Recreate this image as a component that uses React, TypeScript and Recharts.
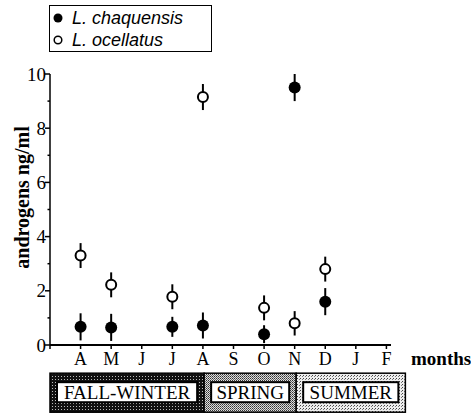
import { ComposedChart, Scatter, ErrorBar, XAxis, YAxis, Legend, ReferenceArea } from 'recharts'

const serif = 'Liberation Serif, Times New Roman, serif'
const sans = 'Liberation Sans, Arial, Helvetica, sans-serif'

// month letters, index = x position (0 = origin, no label)
const months = ['', 'A', 'M', 'J', 'J', 'A', 'S', 'O', 'N', 'D', 'J', 'F']
const monthTicks = months.map((_, i) => i)
const yTicks = [0, 1, 2, 3, 4, 5, 6, 7, 8, 9, 10]

const sampleMonth = [1, 2, 4, 5, 7, 8, 9]
const chaquensisMean = [0.67, 0.65, 0.67, 0.72, 0.4, 9.5, 1.6]
const chaquensisSe = [0.5, 0.5, 0.37, 0.48, 0.33, 0.5, 0.5]
const ocellatusMean = [3.3, 2.22, 1.78, 9.15, 1.37, 0.8, 2.8]
const ocellatusSe = [0.46, 0.46, 0.46, 0.48, 0.46, 0.45, 0.46]

const seriesNames = ['L. chaquensis', 'L. ocellatus']

const seasons = ['FALL-WINTER', 'SPRING', 'SUMMER']
const seasonStart = [0, 5.04, 8.05]
const seasonEnd = [5.04, 8.05, 11.62]
const seasonFill = ['url(#stippleDark)', 'url(#stippleMid)', 'url(#stippleLight)']

const chaquensisData = sampleMonth.map((x, i) => ({ x, y: chaquensisMean[i], err: chaquensisSe[i] }))
const ocellatusData = sampleMonth.map((x, i) => ({ x, y: ocellatusMean[i], err: ocellatusSe[i] }))

const filledDot = (p: any) => <circle cx={p.cx} cy={p.cy} r={6} fill="#000" />
const openDot = (p: any) => <circle cx={p.cx} cy={p.cy} r={5} fill="#fff" stroke="#000" strokeWidth={2} />

const YTick = (props: any) => {
  const { x, y, payload } = props
  const major = payload.value % 2 === 0
  return (
    <g>
      <line x1={x - (major ? 5 : 2.5)} x2={x} y1={y} y2={y} stroke="#000" strokeWidth={1.5} />
      {major && (
        <text
          x={x - 4}
          y={y}
          dy="0.35em"
          textAnchor="end"
          style={{ fontFamily: serif, fontSize: 19 }}
          fill="#000"
        >
          {payload.value}
        </text>
      )}
    </g>
  )
}

const XTick = (props: any) => {
  const { x, y, payload } = props
  return (
    <text x={x} y={y} dy="0.71em" textAnchor="middle" style={{ fontFamily: serif, fontSize: 18 }} fill="#000">
      {months[payload.value]}
    </text>
  )
}

const LegendBox = () => (
  <div
    style={{
      width: 163,
      height: 47,
      boxSizing: 'border-box',
      border: '1.5px solid #000',
      background: '#fff',
      fontFamily: sans,
      fontStyle: 'italic',
      fontSize: 18,
      color: '#000',
      padding: '1px 0 0 1px',
      lineHeight: '22px',
    }}
  >
    {seriesNames.map((name, i) => (
      <div key={name} style={{ display: 'flex', alignItems: 'center', height: 22 }}>
        <svg width={14} height={14}>
          {i === 0 ? (
            <circle cx={7} cy={7} r={4.5} fill="#000" />
          ) : (
            <circle cx={7} cy={7} r={3.8} fill="#fff" stroke="#000" strokeWidth={1.5} />
          )}
        </svg>
        <span style={{ marginLeft: 7 }}>{name}</span>
      </div>
    ))}
  </div>
)

const seasonShape = (label: string, fill: string) => (p: any) => {
  const pad = 7
  return (
    <g>
      <rect x={p.x} y={p.y} width={p.width} height={p.height} fill={fill} stroke="#000" strokeWidth={1.5} />
      <rect
        x={p.x + pad}
        y={p.y + 9}
        width={p.width - pad * 2}
        height={p.height - 19}
        fill="#fff"
        stroke="#000"
        strokeWidth={2}
      />
      <text
        x={p.x + p.width / 2}
        y={p.y + 9 + (p.height - 19) / 2}
        dy="0.36em"
        textAnchor="middle"
        style={{ fontFamily: serif, fontSize: 19 }}
        fill="#000"
      >
        {label}
      </text>
    </g>
  )
}

const MonthsLabel = (props: any) => {
  const vb = props.viewBox
  return (
    <text
      x={vb.x + vb.width + 20}
      y={vb.y + 20}
      style={{ fontFamily: serif, fontSize: 19, fontWeight: 'bold' }}
      fill="#000"
    >
      months
    </text>
  )
}

const AxisTitle = (props: any) => {
  const vb = props.viewBox
  const cx = vb.x + 12
  const cy = vb.y + vb.height / 2 - 12
  return (
    <text
      x={cx}
      y={cy}
      transform={`rotate(-90, ${cx}, ${cy})`}
      textAnchor="middle"
      dy="0.35em"
      style={{ fontFamily: serif, fontSize: 20, fontWeight: 'bold' }}
      fill="#000"
    >
      androgens ng/ml
    </text>
  )
}

export default function App() {
  return (
    <div style={{ position: 'absolute', left: 0, top: 0, width: 471, height: 413, background: '#fff' }}>
      <ComposedChart width={471} height={413} margin={{ top: 74, right: 80, bottom: 38, left: 10 }}>
        <defs>
          <pattern id="stippleDark" width={3} height={3} patternUnits="userSpaceOnUse">
            <rect width={3} height={3} fill="#111" />
            <rect x={1} y={1} width={1} height={1} fill="#bbb" />
          </pattern>
          <pattern id="stippleMid" width={2} height={2} patternUnits="userSpaceOnUse">
            <rect width={2} height={2} fill="#ddd" />
            <rect x={0} y={0} width={1} height={1} fill="#333" />
            <rect x={1} y={1} width={1} height={1} fill="#666" />
          </pattern>
          <pattern id="stippleLight" width={3} height={3} patternUnits="userSpaceOnUse">
            <rect width={3} height={3} fill="#eee" />
            <rect x={0} y={0} width={1} height={1} fill="#444" />
            <rect x={2} y={1} width={1} height={1} fill="#777" />
          </pattern>
        </defs>
        <XAxis
          type="number"
          dataKey="x"
          domain={[0, 11.15]}
          ticks={monthTicks}
          interval={0}
          allowDataOverflow
          tick={<XTick />}
          tickSize={4}
          tickMargin={3}
          axisLine={{ stroke: '#000', strokeWidth: 2 }}
          tickLine={{ stroke: '#000', strokeWidth: 1.5 }}
          height={30}
          label={MonthsLabel}
        />
        <YAxis
          type="number"
          dataKey="y"
          domain={[0, 10]}
          ticks={yTicks}
          interval={0}
          allowDataOverflow
          tick={<YTick />}
          tickLine={false}
          tickSize={0}
          tickMargin={0}
          axisLine={{ stroke: '#000', strokeWidth: 1.5 }}
          width={40}
          label={AxisTitle}
        />
        {seasons.map((s, i) => (
          <ReferenceArea
            key={s}
            x1={seasonStart[i]}
            x2={seasonEnd[i]}
            y1={-1.04}
            y2={-2.48}
            ifOverflow="visible"
            shape={seasonShape(s, seasonFill[i])}
          />
        ))}
        <Legend
          layout="vertical"
          align="center"
          verticalAlign="middle"
          wrapperStyle={{ top: 5, left: 49, width: 163 }}
          content={LegendBox}
        />
        <Scatter name={seriesNames[0]} data={chaquensisData} fill="#000" shape={filledDot} isAnimationActive={false}>
          <ErrorBar dataKey="err" direction="y" width={0} stroke="#000" strokeWidth={2} isAnimationActive={false} />
        </Scatter>
        <Scatter name={seriesNames[1]} data={ocellatusData} fill="#fff" shape={openDot} isAnimationActive={false}>
          <ErrorBar dataKey="err" direction="y" width={0} stroke="#000" strokeWidth={2} isAnimationActive={false} />
        </Scatter>
      </ComposedChart>
    </div>
  )
}
